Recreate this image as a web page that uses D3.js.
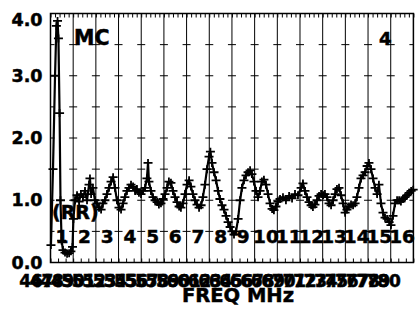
<!DOCTYPE html>
<html>
<head>
<meta charset="utf-8">
<script src="https://cdn.jsdelivr.net/npm/d3@7"></script>
<style>
  html, body { margin: 0; padding: 0; background: #fff; }
  svg text { font-family: "DejaVu Sans", sans-serif; font-weight: bold; fill: #000; stroke: #000; stroke-width: 0.5px; }
</style>
</head>
<body>
<svg id="chart" width="419" height="321"></svg>
<script>
// Sweep position across the band, in channel widths (0 = start of channel 1)
const sweepPos = [
  0.02, 0.11, 0.20, 0.26, 0.31, 0.35, 0.40, 0.44, 0.49, 0.55, 0.64, 0.73, 0.82, 0.90, 0.97,
  1.01, 1.08, 1.17, 1.26, 1.34, 1.43, 1.52, 1.61, 1.70, 1.74, 1.79, 1.87, 1.96,
  2.05, 2.14, 2.23, 2.31, 2.40, 2.49, 2.58, 2.67, 2.76, 2.84, 2.93,
  3.02, 3.11, 3.20, 3.28, 3.37, 3.46, 3.55, 3.64, 3.73, 3.81, 3.90, 3.99,
  4.08, 4.17, 4.25, 4.30, 4.34, 4.43, 4.52, 4.61, 4.70, 4.78, 4.87, 4.96,
  5.05, 5.14, 5.22, 5.31, 5.40, 5.49, 5.58, 5.67, 5.75, 5.84, 5.93,
  6.02, 6.11, 6.19, 6.28, 6.37, 6.46, 6.55, 6.64, 6.72, 6.81, 6.90, 6.99,
  7.05, 7.12, 7.21, 7.30, 7.39, 7.47, 7.56, 7.65, 7.74, 7.83, 7.92,
  8.00, 8.09, 8.18, 8.27, 8.36, 8.44, 8.53, 8.62, 8.71, 8.80, 8.88, 8.97,
  9.06, 9.15, 9.24, 9.32, 9.41, 9.50, 9.59, 9.68, 9.77, 9.85, 9.94,
  10.03, 10.12, 10.25, 10.38, 10.52, 10.65, 10.78, 10.91,
  11.05, 11.13, 11.22, 11.31, 11.40, 11.49, 11.57, 11.66, 11.75, 11.84, 11.93,
  12.02, 12.10, 12.19, 12.28, 12.37, 12.46, 12.55, 12.63, 12.72, 12.81, 12.90, 12.99,
  13.07, 13.16, 13.25, 13.34, 13.43, 13.51, 13.60, 13.69, 13.78, 13.87, 13.96,
  14.04, 14.13, 14.22, 14.31, 14.40, 14.48, 14.57, 14.66, 14.75, 14.84, 14.93,
  15.01, 15.10, 15.19, 15.28, 15.37, 15.45, 15.54, 15.63, 15.72, 15.81, 15.90, 15.99
];

// Measured return ratio (RR) at each sweep position
const returnRatio = [
  0.28, 1.50, 3.00, 3.80, 3.88, 3.60, 2.40, 1.00, 0.35, 0.20, 0.16, 0.14, 0.15, 0.18, 0.25,
  0.70, 1.00, 1.08, 0.98, 1.10, 1.05, 1.15, 1.00, 1.25, 1.35, 1.10, 1.20, 1.00,
  0.95, 0.88, 0.85, 0.95, 1.00, 1.10, 1.20, 1.30, 1.37, 1.20, 1.00,
  0.88, 0.85, 0.95, 1.05, 1.15, 1.20, 1.25, 1.22, 1.15, 1.18, 1.12, 1.10,
  1.15, 1.20, 1.35, 1.60, 1.30, 1.15, 1.05, 1.00, 0.97, 0.93, 0.95, 1.02,
  1.10, 1.20, 1.30, 1.28, 1.15, 1.05, 0.97, 0.90, 0.88, 0.95, 1.10,
  1.25, 1.32, 1.22, 1.10, 1.00, 0.93, 0.88, 0.92, 1.05, 1.25, 1.50, 1.70,
  1.78, 1.60, 1.45, 1.32, 1.15, 1.02, 0.92, 0.85, 0.75, 0.65, 0.57,
  0.50, 0.45, 0.50, 0.70, 1.00, 1.20, 1.32, 1.40, 1.45, 1.48, 1.42, 1.30,
  1.15, 1.05, 1.15, 1.30, 1.33, 1.25, 1.10, 0.95, 0.86, 0.84, 0.90,
  0.98, 1.02, 1.05, 1.00, 1.07, 1.03, 1.10, 1.08,
  1.20, 1.27, 1.15, 1.05, 0.97, 0.92, 0.89, 0.93, 1.00, 1.07, 1.10,
  1.08, 1.10, 1.05, 0.95, 0.92, 1.00, 1.10, 1.18, 1.20, 1.08, 0.95, 0.80,
  0.85, 0.90, 0.93, 0.92, 0.95, 1.05, 1.20, 1.35, 1.40, 1.45, 1.55,
  1.60, 1.50, 1.35, 1.20, 1.10, 1.25, 0.95, 0.80, 0.72, 0.70, 0.65,
  0.60, 0.75, 0.95, 1.00, 1.00, 0.98, 1.02, 1.05, 1.08, 1.12, 1.15, 1.17
];

const channelNames = ["1","2","3","4","5","6","7","8","9","10","11","12","13","14","15","16"];
const freqLabels = ["46","47","48","49","50","51","52","53","54","55","56","57","58","59","60","61","62",
  "63","64","65","66","67","68","69","70","71","72","73","74","75","76","77","78","79","80"];
const yTickValues = [0, 1, 2, 3, 4];
const yDashValues = [0.5, 1, 1.5, 2, 2.5, 3, 3.5];

const svg = d3.select("#chart");
const plot = { left: 50.5, right: 413.4, top: 13.5, bottom: 262.5 };

const x = d3.scaleLinear().domain([0, channelNames.length]).range([plot.left, plot.right]);
const y = d3.scaleLinear().domain([0, 4]).range([plot.bottom, plot.top]);
const boundaries = d3.range(0, channelNames.length + 1);

// channel boundary grid lines
svg.append("g").selectAll("line").data(boundaries.slice(1, -1)).join("line")
  .attr("x1", d => x(d)).attr("x2", d => x(d))
  .attr("y1", plot.top).attr("y2", plot.bottom)
  .attr("stroke", "#000").attr("stroke-width", 1);

// short horizontal dashes at every half unit, centred on each boundary
const dashes = [];
yDashValues.forEach(v => boundaries.forEach(b => dashes.push({ v, b })));
svg.append("g").selectAll("line").data(dashes).join("line")
  .attr("x1", d => Math.max(plot.left, x(d.b) - 4))
  .attr("x2", d => Math.min(plot.right, x(d.b) + 4))
  .attr("y1", d => y(d.v)).attr("y2", d => y(d.v))
  .attr("stroke", "#000").attr("stroke-width", 1);

// minor ticks along top and bottom edges
const topAxis = d3.axisTop(x).tickValues(d3.range(0, 16.001, 0.2)).tickSize(-4).tickFormat("");
const botAxis = d3.axisBottom(x).tickValues(d3.range(0, 16.001, 1 / 3)).tickSize(-4).tickFormat("");
svg.append("g").attr("transform", `translate(0,${plot.top})`).call(topAxis)
  .call(g => g.select(".domain").remove())
  .selectAll("line").attr("stroke", "#000");
svg.append("g").attr("transform", `translate(0,${plot.bottom})`).call(botAxis)
  .call(g => g.select(".domain").remove())
  .selectAll("line").attr("stroke", "#000");

// plot frame
svg.append("rect")
  .attr("x", plot.left).attr("y", plot.top)
  .attr("width", plot.right - plot.left).attr("height", plot.bottom - plot.top)
  .attr("fill", "none").attr("stroke", "#000").attr("stroke-width", 1.5);

// y axis labels
const yAxis = d3.axisLeft(y).tickValues(yTickValues).tickFormat(d3.format(".1f")).tickSize(0).tickPadding(8);
const yg = svg.append("g").attr("transform", `translate(${plot.left},0)`).call(yAxis);
yg.select(".domain").remove();
yg.selectAll("text")
  .style("font-family", "'DejaVu Sans', sans-serif").style("font-weight", "bold")
  .style("font-size", "17.5px").attr("fill", "#000")
  .attr("y", d => Math.max(0, plot.top + 6 - y(d)));

// channel numbers inside the plot
svg.append("g").selectAll("text").data(channelNames).join("text")
  .attr("x", (d, i) => x(i + 0.5)).attr("y", 243)
  .attr("text-anchor", "middle").style("font-size", "18.5px")
  .text(d => d);

// frequency labels under the axis
const fx = d3.scalePoint().domain(freqLabels).range([31, 389]);
svg.append("g").selectAll("text").data(freqLabels).join("text")
  .attr("x", d => fx(d)).attr("y", 287)
  .attr("text-anchor", "middle").style("font-size", "17px")
  .text(d => d);

svg.append("text").attr("x", 238).attr("y", 302).attr("text-anchor", "middle")
  .style("font-size", "19.5px").text("FREQ MHz");

// measured sweep: line plus "+" markers
const pts = sweepPos.map((p, i) => [x(p), y(returnRatio[i])]);
svg.append("path").datum(pts)
  .attr("d", d3.line())
  .attr("fill", "none").attr("stroke", "#000").attr("stroke-width", 2.2);
svg.append("g").selectAll("path").data(pts).join("path")
  .attr("d", d => `M${d[0] - 4.5},${d[1]}H${d[0] + 4.5}M${d[0]},${d[1] - 4}V${d[1] + 4}`)
  .attr("stroke", "#000").attr("stroke-width", 1.8).attr("fill", "none");

// annotations
svg.append("text").attr("x", 74).attr("y", 45).style("font-size", "20.5px").text("MC");
svg.append("text").attr("x", 379).attr("y", 45).style("font-size", "18px").text("4");
svg.append("text").attr("x", 52).attr("y", 219).style("font-size", "19px").text("(RR)");
</script>
</body>
</html>
